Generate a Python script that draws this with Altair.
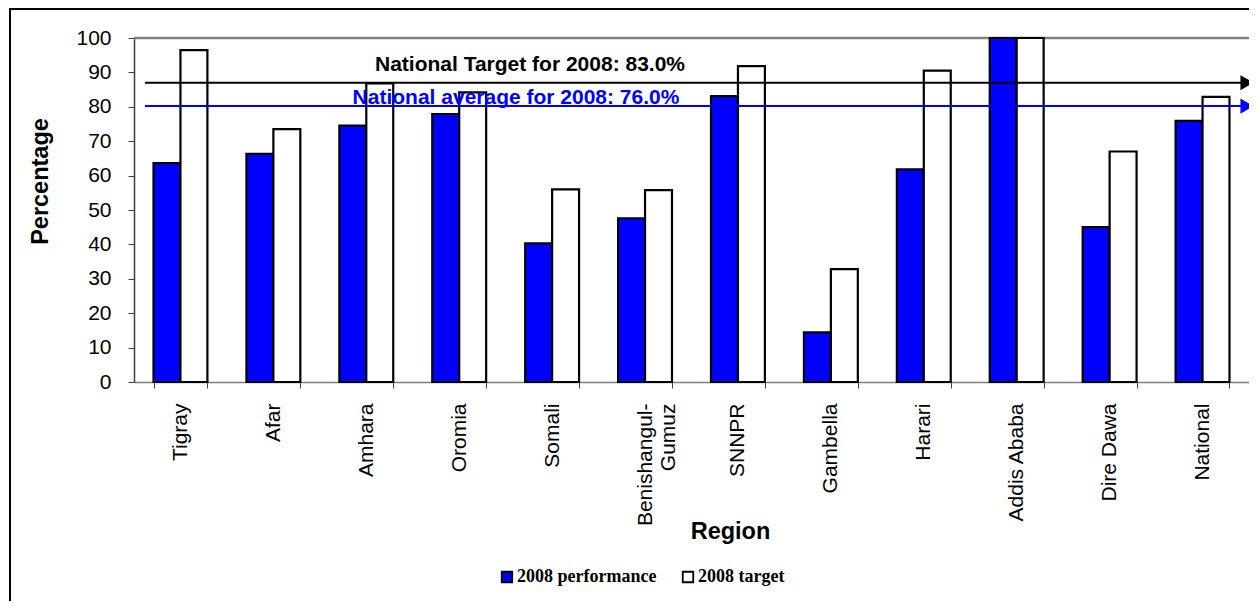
import altair as alt
import pandas as pd

# Values
regions = ["Tigray", "Afar", "Amhara", "Oromia", "Somali", "Benishangul-Gumuz",
           "SNNPR", "Gambella", "Harari", "Addis Ababa", "Dire Dawa", "National"]
performance = [63.6, 66.3, 74.5, 77.9, 40.3, 47.6, 83.1, 14.4, 61.8, 100.0, 45.0, 75.9]
target = [96.5, 73.5, 86.8, 84.2, 56.0, 55.8, 91.8, 32.8, 90.5, 100.0, 67.0, 82.9]
series = ["2008 performance", "2008 target"]
series_colors = ["#0000FF", "#FFFFFF"]

ref_labels = ["National Target for 2008: 83.0%", "National average for 2008: 76.0%"]
ref_levels = [87.0, 80.2]
ref_colors = ["#000000", "#0000FF"]
y_ticks = list(range(0, 101, 10))

W, H = 1115, 344
SANS = "Liberation Sans"
SERIF = "Liberation Serif"

bars_df = pd.DataFrame({
    "region": regions * 2,
    "series": [series[0]] * len(regions) + [series[1]] * len(regions),
    "value": performance + target,
})
ref_df = pd.DataFrame({"label": ref_labels, "level": ref_levels, "color": ref_colors})

y_scale = alt.Scale(domain=[0, 100])
# same axis object on every layer so the merged axis keeps all its settings
y_axis = alt.Axis(title="Percentage", values=y_ticks, grid=False, labelOverlap=False,
                  labelFontSize=21, labelFont=SANS, labelColor="black",
                  labelPadding=17, tickSize=6, tickColor="#404040",
                  domainColor="#404040", domainWidth=1.5,
                  titleFont=SANS, titleFontSize=23.5, titleFontWeight="bold",
                  titleColor="black", titleAngle=270, titleX=-94, titleY=143,
                  titleBaseline="middle", titleAlign="center")

bars = alt.Chart(bars_df).mark_bar(stroke="black", strokeWidth=2.2).encode(
    x=alt.X("region:N", sort=regions,
            scale=alt.Scale(paddingInner=0.42, paddingOuter=0.21),
            axis=alt.Axis(title="Region", labelAngle=-90, labelFontSize=21,
                          labelFont=SANS, labelColor="black", labelPadding=15,
                          labelExpr="datum.value == 'Benishangul-Gumuz' ? "
                                    "['Benishangul-', 'Gumuz\u00a0\u00a0\u00a0\u00a0\u00a0\u00a0'] : datum.label",
                          labelOverlap=False,
                          tickBand="extent", tickSize=6, tickColor="#404040",
                          domainColor="#808080", domainWidth=1.5,
                          titleFont=SANS, titleFontSize=23.5, titleFontWeight="bold",
                          titleColor="black", titleX=596, titleY=149,
                          titleBaseline="middle", titleAlign="center")),
    xOffset=alt.XOffset("series:N", sort=series, scale=alt.Scale(paddingInner=0, paddingOuter=0)),
    y=alt.Y("value:Q", scale=y_scale, axis=y_axis),
    color=alt.Color("series:N", sort=series,
                    scale=alt.Scale(domain=series, range=series_colors),
                    legend=alt.Legend(title=None, orient="none", direction="horizontal",
                                      legendX=364, legendY=530,
                                      symbolType="square", symbolSize=110,
                                      symbolStrokeColor="black", symbolStrokeWidth=1.8,
                                      symbolOpacity=1,
                                      labelFont=SERIF, labelFontSize=18,
                                      labelFontWeight="bold", labelColor="black",
                                      labelOffset=1, columnPadding=22)),
)

# gray top border of the plot area
top_border = alt.Chart(ref_df.head(1)).mark_rule(color="#808080", strokeWidth=2.5).encode(
    x=alt.value(0), x2=alt.value(W + 20), y=alt.value(0),
)

lines = alt.Chart(ref_df).mark_rule(strokeWidth=2).encode(
    x=alt.value(11),
    x2=alt.value(W),
    y=alt.Y("level:Q", scale=y_scale, axis=y_axis),
    color=alt.Color("color:N", scale=None),
)

arrows = alt.Chart(ref_df).mark_point(shape="triangle-right", filled=True, size=230, opacity=1).encode(
    x=alt.value(W - 2),
    y=alt.Y("level:Q", scale=y_scale, axis=y_axis),
    color=alt.Color("color:N", scale=None),
)

texts = alt.Chart(ref_df).mark_text().encode(
    x=alt.value(396),
    y=alt.Y("level:Q", scale=y_scale, axis=y_axis),
    text="label:N",
    color=alt.Color("color:N", scale=None),
)
# shift each text relative to its line as in the reference
text_target = texts.transform_filter(alt.datum.color == "#000000").mark_text(
    font=SANS, fontSize=21, fontWeight="bold", align="center", baseline="alphabetic", dy=-12)
text_avg = texts.transform_filter(alt.datum.color == "#0000FF").mark_text(
    font=SANS, fontSize=21, fontWeight="bold", align="center", baseline="alphabetic", dy=-2, dx=-14)

frame = alt.Chart(ref_df.head(1)).mark_rect(fill=None, stroke="black", strokeWidth=2, clip=False).encode(
    x=alt.value(-124), x2=alt.value(W + 300),
    y=alt.value(-29), y2=alt.value(H + 400),
)

chart = alt.layer(frame, top_border, bars, lines, arrows, text_target, text_avg).properties(
    width=W, height=H,
    autosize=alt.AutoSizeParams(type="none"),
    padding={"left": 126, "top": 30, "right": 0, "bottom": 219},
).configure_view(
    strokeWidth=0
).configure(background="white")

chart.save("out.html", embed_options={"renderer": "svg", "actions": False})
